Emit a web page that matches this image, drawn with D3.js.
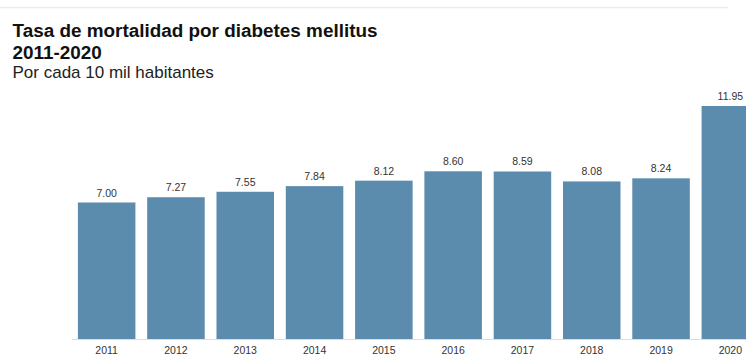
<!DOCTYPE html>
<html><head><meta charset="utf-8">
<script src="https://cdn.jsdelivr.net/npm/d3@7"></script>
<style>html,body{margin:0;padding:0;background:#fff;overflow:hidden}</style>
</head><body>
<script>
const years = ["2011","2012","2013","2014","2015","2016","2017","2018","2019","2020"];
const values = [7.00, 7.27, 7.55, 7.84, 8.12, 8.60, 8.59, 8.08, 8.24, 11.95];
const title1 = "Tasa de mortalidad por diabetes mellitus";
const title2 = "2011-2020";
const subtitle = "Por cada 10 mil habitantes";

const W = 746, H = 358;
const svg = d3.select("body").append("svg").attr("width", W).attr("height", H)
  .style("font-family", "'Liberation Sans', Arial, sans-serif");

svg.append("line").attr("x1", 0).attr("x2", 728).attr("y1", 7.5).attr("y2", 7.5)
  .attr("stroke", "#ececec").attr("stroke-width", 1.5);

svg.append("text").attr("x", 12.5).attr("y", 37).text(title1)
  .attr("font-size", 18.9).attr("font-weight", "bold").attr("fill", "#111");
svg.append("text").attr("x", 12.5).attr("y", 58.5).text(title2)
  .attr("font-size", 18.9).attr("font-weight", "bold").attr("fill", "#111");
svg.append("text").attr("x", 12.5).attr("y", 77.5).text(subtitle)
  .attr("font-size", 17).attr("fill", "#222");

const x = d3.scaleBand().domain(years).range([72, 765]).paddingInner(0.17).paddingOuter(0.085);
const y = d3.scaleLinear().domain([0, 12]).range([339, 339 - 19.5 * 12]);

svg.selectAll("rect.bar").data(values).join("rect").attr("class", "bar")
  .attr("x", (d, i) => x(years[i])).attr("width", x.bandwidth())
  .attr("y", d => y(d)).attr("height", d => y(0) - y(d))
  .attr("fill", "#5b8cae");

svg.selectAll("text.val").data(values).join("text").attr("class", "val")
  .attr("x", (d, i) => x(years[i]) + x.bandwidth() / 2)
  .attr("y", d => y(d) - 6)
  .attr("text-anchor", "middle").attr("font-size", 10.5).attr("fill", "#333")
  .text(d => d.toFixed(2));

const axis = svg.append("g").attr("transform", `translate(0,${y(0)})`)
  .call(d3.axisBottom(x).tickSize(0).tickPadding(8));
axis.select(".domain").attr("stroke", "#ddd").attr("d", `M72,0.5H746`);
axis.selectAll("text").attr("font-size", 10.5).attr("fill", "#333")
  .attr("font-family", "'Liberation Sans', Arial, sans-serif");
</script>
</body></html>
